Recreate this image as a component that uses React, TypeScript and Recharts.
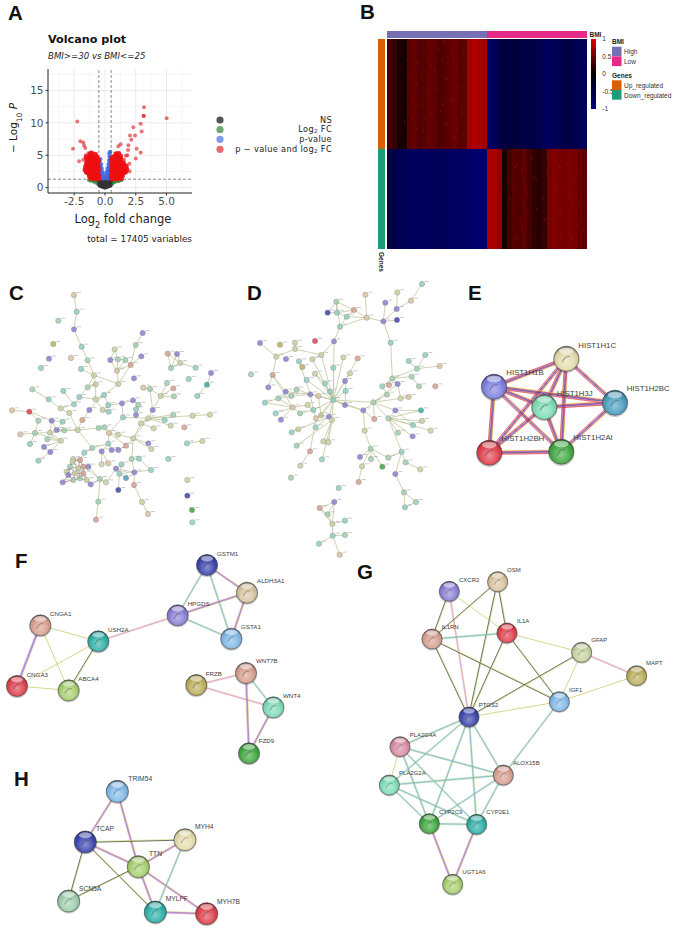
import React from "react";
import {
  Bar,
  BarChart,
  CartesianGrid,
  Cell,
  ReferenceLine,
  Scatter,
  ScatterChart,
  XAxis,
  YAxis,
} from "recharts";

type Pair = [number, number];

// A: volcano plot
const xTicks = [-2.5, 0, 2.5, 5];
const yTicks = [0, 5, 10, 15];
const xMinor = [-3.75, -1.25, 1.25, 3.75, 6.25];
const yMinor = [2.5, 7.5, 12.5, 17.5];
const fcCut = 0.5;
const pCut = 1.3;

const nsPoints: Pair[] = [
  [-0.45, 0.4], [-0.45, 0.9], [-0.4, 1.2], [-0.35, 0.3], [-0.35, 0.7], [-0.3, 1.1], [-0.25, 0.2], [-0.25, 0.6],
  [-0.2, 1.0], [-0.15, 0.15], [-0.15, 0.5], [-0.1, 0.9], [-0.05, 0.05], [-0.05, 0.4], [0, 0.2], [0, 0.75],
  [0.05, 0.05], [0.05, 0.45], [0.1, 1.0], [0.15, 0.15], [0.15, 0.55], [0.2, 1.1], [0.25, 0.2], [0.25, 0.65],
  [0.3, 1.15], [0.35, 0.3], [0.35, 0.75], [0.4, 1.2], [0.45, 0.4], [0.45, 0.9], [0, 1.1],
];
const fcPoints: Pair[] = [
  [-1.3, 1.2], [-1.15, 1.1], [-1.0, 1.2], [-0.9, 0.95], [-0.8, 1.15], [-0.7, 0.8], [-0.65, 1.1], [-0.55, 0.6],
  [-0.55, 1.0], [-0.6, 0.85], [0.55, 0.55], [0.55, 1.0], [0.62, 0.8], [0.68, 1.15], [0.75, 0.85], [0.85, 1.05],
  [0.95, 1.2], [1.05, 1.0], [1.2, 1.15], [1.35, 1.2],
];
const pPoints: Pair[] = [
  [-0.45, 1.5], [-0.35, 1.5], [-0.25, 1.5], [-0.15, 1.4], [-0.45, 2], [-0.35, 2], [-0.25, 1.9], [-0.15, 1.8],
  [-0.08, 1.5], [-0.45, 2.5], [-0.35, 2.6], [-0.25, 2.4], [-0.15, 2.2], [-0.45, 3], [-0.36, 3.1], [-0.27, 2.9],
  [-0.42, 3.5], [-0.33, 3.6], [-0.44, 4.1], [-0.38, 4.4], [0.1, 1.5], [0.2, 1.4], [0.3, 1.5], [0.42, 1.5],
  [0.12, 1.9], [0.22, 2], [0.32, 2], [0.44, 2], [0.15, 2.4], [0.25, 2.5], [0.35, 2.6], [0.46, 2.5],
  [0.22, 3], [0.33, 3.1], [0.44, 3], [0.3, 3.6], [0.4, 3.6], [0.46, 3.9], [0.34, 4.2], [0.42, 4.3],
  [0.38, 4.8], [0.45, 4.7], [0.36, 5.3], [0.42, 5.5], [0.02, 1.5],
];
const bothOutliers: Pair[] = [
  [5.01, 10.7], [3.17, 12.4], [3.14, 11.1], [3.15, 11.05], [-2.25, 10.2], [2.9, 9.85], [2.3, 9.3], [2.98, 8.65],
  [2.44, 8.05], [2.03, 8.05], [2.14, 7.4], [-2.0, 7.15], [-1.76, 6.95], [-1.7, 6.5], [-1.6, 6.1], [-2.6, 6.0],
  [1.9, 6.55], [1.27, 6.7], [1.08, 6.4], [1.87, 5.8], [2.57, 6.0], [2.9, 5.4], [2.5, 4.5], [1.98, 3.7],
  [2.0, 2.5], [-2.1, 4.07], [-1.76, 4.3], [-1.55, 5.0], [-1.35, 5.3], [1.7, 4.9], [1.55, 4.3], [1.82, 5.0],
];
const bothMass: Pair[] = [
  // left
  [-0.55, 1.42], [-0.7, 1.38], [-0.85, 1.45], [-1.0, 1.4], [-1.15, 1.5], [-0.52, 1.8], [-0.66, 1.85], [-0.8, 1.78],
  [-0.95, 1.82], [-1.1, 1.9], [-1.25, 1.85], [-0.6, 2.2], [-0.75, 2.25], [-0.9, 2.18], [-1.05, 2.3], [-1.2, 2.2],
  [-1.35, 2.3], [-1.5, 2.4], [-0.55, 2.7], [-0.7, 2.65], [-0.85, 2.75], [-1.0, 2.7], [-1.15, 2.8], [-1.3, 2.7],
  [-1.45, 2.85], [-1.6, 2.75], [-0.58, 3.2], [-0.74, 3.25], [-0.9, 3.15], [-1.05, 3.3], [-1.2, 3.2], [-1.38, 3.3],
  [-1.55, 3.25], [-0.6, 3.7], [-0.78, 3.75], [-0.95, 3.7], [-1.12, 3.8], [-1.3, 3.7], [-1.48, 3.8], [-0.55, 4.2],
  [-0.72, 4.25], [-0.9, 4.2], [-1.1, 4.3], [-1.28, 4.2], [-1.45, 4.35], [-0.65, 4.7], [-0.85, 4.75], [-1.05, 4.7],
  [-1.22, 4.8], [-1.5, 4.7], [-0.8, 5.1], [-1.2, 5.15], [-1.1, 5.3],
  // right
  [0.55, 1.4], [0.7, 1.45], [0.85, 1.38], [1.0, 1.42], [1.15, 1.5], [1.3, 1.45], [0.52, 1.85], [0.66, 1.8],
  [0.8, 1.9], [0.95, 1.82], [1.1, 1.88], [1.25, 1.95], [1.4, 1.85], [0.6, 2.25], [0.75, 2.2], [0.9, 2.3],
  [1.05, 2.2], [1.2, 2.35], [1.35, 2.25], [1.5, 2.35], [1.65, 2.4], [0.55, 2.7], [0.7, 2.75], [0.85, 2.65],
  [1.0, 2.8], [1.15, 2.7], [1.3, 2.8], [1.45, 2.72], [1.6, 2.85], [1.75, 2.8], [0.58, 3.25], [0.74, 3.2],
  [0.9, 3.3], [1.05, 3.2], [1.2, 3.3], [1.38, 3.22], [1.55, 3.35], [1.7, 3.3], [0.6, 3.75], [0.78, 3.7],
  [0.95, 3.8], [1.12, 3.72], [1.3, 3.8], [1.48, 3.75], [0.55, 4.25], [0.72, 4.2], [0.9, 4.3], [1.1, 4.22],
  [1.28, 4.35], [0.65, 4.7], [0.85, 4.8], [1.05, 4.72], [1.25, 4.85], [0.9, 5.2], [1.1, 5.25],
];

// B: heatmap, one value per column, 20 High then 20 Low
const upRows = 110;
const downRows = 100;
const upByColumn = [
  0.36, 0.3, 0.12, 0.12, 0.48, 0.52, 0.42, 0.46, 0.52, 0.5, 0.4, 0.46, 0.5, 0.56, 0.46, 0.5, 0.86, 0.92, 0.88, 0.84,
  -0.9, -0.78, -0.58, -0.55, -0.52, -0.5, -0.52, -0.56, -0.58, -0.62, -0.64, -0.75, -0.78, -0.74, -0.7, -0.62, -0.58, -0.66, -0.72, -0.75,
];
const downByColumn = [
  -0.55, -0.62, -0.7, -0.72, -0.78, -0.8, -0.76, -0.8, -0.78, -0.76, -0.74, -0.78, -0.82, -0.84, -0.82, -0.8, -0.85, -0.92, -0.95, -0.92,
  0.88, 0.9, 0.75, 0.12, 0.36, 0.46, 0.42, 0.5, 0.36, 0.24, 0.2, 0.3, 0.62, 0.68, 0.64, 0.6, 0.66, 0.62, 0.55, 0.5,
];
const heatSpeckles: Pair[] = [
  [4, 190], [5, 150], [6, 120], [7, 175], [8, 205], [9, 135], [10, 160], [11, 190], [12, 125], [13, 150],
  [14, 180], [15, 135], [5, 130], [7, 145], [9, 195], [10, 115], [12, 170], [14, 120], [6, 165], [8, 110],
  [11, 145], [13, 198], [24, 70], [25, 35], [26, 85], [27, 20], [28, 55], [29, 90], [30, 40], [31, 12],
  [32, 75], [33, 30], [34, 60], [35, 15], [36, 85], [37, 45], [38, 25], [39, 65], [25, 60], [27, 80],
  [29, 25], [31, 50], [33, 92], [35, 40], [37, 10], [38, 78], [26, 10], [30, 68],
  [4.6, 172], [5.4, 202], [6.5, 142], [7.3, 118], [8.4, 158], [9.6, 178], [10.7, 138], [11.5, 208], [12.6, 148], [13.5, 112],
  [14.4, 162], [15.3, 196], [3.5, 128], [4.2, 108], [6.2, 186], [8.8, 184], [10.3, 200], [12.2, 192], [14.8, 142], [7.8, 130],
  [24.5, 50], [25.6, 82], [26.6, 28], [27.5, 62], [28.6, 14], [29.4, 72], [30.6, 92], [31.5, 30], [32.6, 52], [33.4, 10],
  [34.5, 82], [35.6, 62], [36.4, 28], [37.5, 70], [38.6, 44], [39.4, 18], [32.2, 92], [34.2, 36], [36.8, 54], [28.2, 36],
];
const heatColumns = upByColumn.map((_, i) => String(i));
const scaleTicks = [-1, -0.5, 0, 0.5, 1];

// tones of the STRING spheres
const toneColors: Record<string, string> = {
  navy: "#3b44ad",
  purple: "#8a80d6",
  periwinkle: "#7d80e2",
  tan: "#d9c4a0",
  cream: "#e6dcae",
  rose: "#d8a090",
  pink: "#d98ca2",
  red: "#e0404c",
  mint: "#7edcb6",
  teal: "#2eb0a8",
  blue: "#82bae9",
  steel: "#4a9fc0",
  green: "#3fa83f",
  lime: "#a8d070",
  olive: "#bdb05e",
  sage: "#c8d2a0",
  seafoam: "#9fd0ae",
  aqua: "#8fcfc4",
};

// C
const cX = [222,230,175,222,160,245,147,123,213,263,243,428,407,344,331,354,376,424,392,351,503,531,541,513,587,633,566,621,592,402,282,287,263,355,97,190,146,238,287,312,430,450,501,520,482,522,399,415,366,458,222,182,208,268,308,325,326,408,408,369,36,88,115,155,188,247,445,520,494,578,630,423,512,553,461,170,193,233,296,314,327,354,61,105,150,400,142,183,90,132,151,325,378,445,454,561,607,277,253,305,335,355,115,220,395,417,505,305,325,365,265,348,358,403,453,378,200,218,240,210,235,250,205,225,240,260,188,220,250,272,300,318,355,402,295,288,426,444,562,562,576,577];
const cY = [75,125,152,178,222,230,266,294,264,271,297,189,225,238,270,268,270,259,285,302,251,252,279,294,293,309,327,344,378,325,316,343,352,342,358,363,388,381,388,375,353,357,339,355,378,379,391,404,400,420,403,415,429,420,420,405,425,418,435,442,421,425,452,452,455,450,445,434,450,437,434,460,467,472,475,480,481,480,474,472,489,494,493,489,488,505,508,512,522,531,546,521,527,520,537,520,513,534,548,544,540,540,572,567,567,566,567,583,580,583,590,596,611,607,600,624,605,575,570,590,595,590,615,610,625,630,637,630,610,643,627,637,660,645,695,749,696,732,630,677,720,757];
const cTones = ["tan","aqua","seafoam","purple","olive","aqua","purple","aqua","tan","seafoam","aqua","purple","seafoam","sage","purple","seafoam","seafoam","purple","rose","tan","rose","purple","sage","seafoam","aqua","purple","aqua","teal","aqua","purple","sage","tan","seafoam","sage","seafoam","aqua","aqua","aqua","sage","aqua","tan","seafoam","seafoam","rose","sage","seafoam","purple","seafoam","purple","purple","aqua","sage","sage","purple","sage","aqua","aqua","aqua","purple","aqua","tan","red","seafoam","purple","aqua","rose","sage","seafoam","aqua","sage","sage","sage","sage","rose","sage","purple","seafoam","sage","seafoam","seafoam","tan","sage","tan","seafoam","sage","sage","seafoam","sage","aqua","purple","purple","aqua","rose","purple","sage","aqua","sage","seafoam","aqua","purple","purple","purple","aqua","sage","seafoam","aqua","aqua","sage","tan","aqua","purple","purple","aqua","purple","aqua","steel","sage","sage","rose","seafoam","sage","rose","purple","sage","seafoam","sage","purple","seafoam","rose","purple","seafoam","sage","navy","rose","seafoam","rose","sage","tan","sage","navy","green","aqua"];
const cEdges: Pair[] = [
  [1,2],[2,4],[4,6],[6,10],[10,31],[11,31],[31,32],[31,33],[32,33],[32,39],[31,34],[34,20],[20,15],[20,16],[20,17],[15,16],[16,17],[14,16],[15,14],[17,19],[19,18],[19,34],[12,13],[13,19],[20,19],
  [21,23],[22,23],[22,24],[23,24],[21,24],[23,25],[26,28],[28,29],[33,38],[38,39],[39,40],[40,34],[39,55],[40,56],[56,55],[55,57],[56,49],[49,47],[47,48],[48,58],[58,59],[49,60],[60,67],[67,50],[50,45],[45,42],[42,41],[45,43],[45,44],[45,46],[42,50],
  [67,68],[67,69],[67,73],[67,70],[70,71],[67,72],[72,75],[72,86],[86,67],[86,82],[86,93],[86,94],[86,95],[86,105],[105,106],[106,115],[105,114],[114,112],[35,37],[37,52],[52,53],[52,51],[51,38],[36,51],[53,78],[54,66],[66,78],[54,40],[78,79],[79,80],[80,81],[81,82],
  [78,76],[76,77],[77,78],[77,85],[85,84],[84,83],[84,63],[63,62],[62,61],[62,64],[64,65],[65,76],[64,76],[64,85],[85,88],[88,87],[88,84],[89,84],[90,88],[91,88],[91,103],[90,91],[78,98],[98,92],[92,81],[98,99],[99,119],[81,60],[81,93],[92,100],[92,101],[101,102],[102,93],[100,108],[100,109],
  [104,118],[122,131],[111,122],[111,131],[131,132],[131,135],[135,136],[132,112],[112,110],[110,113],[113,116],[113,133],[114,134],[134,137],[137,138],[115,113],[130,131],[96,97],
];
const cClusterEdges: Pair[] = [
  [117,118],[117,120],[117,123],[118,119],[118,120],[118,121],[119,121],[119,122],[120,121],[120,123],[120,124],[121,122],[121,124],[121,125],[122,129],[123,124],[123,127],[123,128],[124,125],[124,128],[124,129],[125,126],[125,128],[125,129],[126,129],[127,128],[126,130],
];

// D
const dX = [561,528,487,451,485,486,445,391,395,304,278,306,357,335,315,297,240,467,75,135,180,180,259,124,153,192,232,325,368,571,521,614,546,202,295,48,113,240,345,215,330,472,530,552,601,100,270,442,488,462,152,185,332,456,169,226,250,285,497,521,90,130,295,330,415,218,173,122,195,235,385,481,558,138,258,282,291,243,418,460,561,534,242,190,170,389,489,533,587,185,265,280,225,261,407,375,408,460,500,512,381,442,196,168,481,556,371,507,543,510,311,298,254,278,292,330,330,293,252,314];
const dY = [42,92,67,98,117,150,154,74,143,95,128,128,120,140,170,214,213,218,219,224,218,237,255,260,267,274,268,262,265,255,273,288,296,291,293,313,315,311,310,330,333,325,320,349,349,352,340,349,342,345,365,358,363,374,378,373,378,365,385,381,398,385,390,405,397,405,412,430,430,420,421,421,421,449,436,440,450,445,447,445,453,465,472,478,487,482,488,499,482,527,514,517,544,568,536,561,567,563,545,577,589,590,587,623,612,598,636,667,696,712,654,696,714,733,762,752,795,797,821,854];
const dTones = ["aqua","tan","sage","purple","purple","navy","purple","tan","tan","seafoam","navy","aqua","rose","aqua","aqua","purple","red","aqua","purple","olive","sage","sage","sage","sage","purple","aqua","sage","sage","rose","aqua","aqua","tan","seafoam","olive","aqua","seafoam","rose","sage","sage","aqua","purple","seafoam","seafoam","seafoam","rose","purple","aqua","aqua","purple","rose","purple","seafoam","aqua","seafoam","seafoam","purple","tan","aqua","sage","tan","aqua","aqua","aqua","purple","seafoam","sage","tan","aqua","seafoam","aqua","purple","purple","teal","purple","tan","purple","sage","tan","rose","seafoam","sage","aqua","aqua","sage","aqua","sage","seafoam","purple","sage","seafoam","sage","sage","rose","aqua","seafoam","purple","seafoam","seafoam","aqua","seafoam","sage","green","sage","seafoam","purple","sage","rose","seafoam","seafoam","aqua","aqua","purple","rose","seafoam","sage","aqua","seafoam","aqua","aqua","tan"];
const dEdges: Pair[] = [
  [1,2],[2,5],[3,5],[5,7],[4,7],[6,7],[7,9],[8,9],[9,13],[9,14],[9,15],[10,12],[10,11],[11,12],[10,13],[12,13],[12,14],[13,14],[14,15],[10,15],[15,16],[16,23],[7,18],[18,42],[42,33],[33,30],[33,32],[33,31],[42,43],[43,44],[42,48],[42,49],[42,50],[48,54],[49,59],[59,60],[59,65],[49,65],[54,65],[65,71],[65,80],[65,72],[65,79],[71,79],[71,86],[86,95],[80,72],[80,73],[80,81],[80,82],[80,87],[80,89],[80,88],[72,73],[72,82],[65,63],[63,64],[71,64],
  [95,96],[95,97],[95,98],[95,101],[95,102],[101,107],[98,99],[99,100],[99,105],[100,106],[105,108],[108,109],[108,110],[109,110],[80,99],
  [23,27],[23,22],[22,24],[21,22],[24,19],[24,37],[37,46],[37,51],[37,67],[23,63],[16,63],[28,63],[29,41],[41,63],[39,63],[35,63],[47,63],[38,63],[40,63],[27,63],[26,56],[51,55],[52,55],[55,56],[56,63],[57,63],[58,63],[53,63],[64,63],[70,63],[75,63],[76,63],[77,63],[78,63],[83,76],[84,76],[85,84],[61,62],[62,51],[62,55],[61,67],[67,69],[67,68],[67,62],[74,67],[90,77],[93,78],[103,93],[91,77],[92,77],[94,77],[69,70],[51,56],[71,63],
  [57,75],[56,70],[70,78],[58,47],[53,41],[64,53],[66,70],[75,76],[76,77],[57,56],[52,56],[66,67],[38,47],
  [112,113],[112,114],[112,115],[113,114],[113,115],[114,115],[115,116],[115,118],[118,117],[118,119],[118,120],
];

// E
const eNames = ["HIST1H1C", "HIST1H1B", "HIST1H3J", "HIST1H2BC", "HIST1H2BH", "HIST1H2AI"];
const eX = [319, 102, 253, 465, 88, 304];
const eY = [236, 320, 381, 368, 518, 515];
const eTones = ["cream", "periwinkle", "mint", "steel", "red", "green"];
const eLabelX = [355, 139, 290, 500, 124, 340];
const eLabelY = [195, 278, 340, 325, 475, 471];
const eEdges: [string, string, string][] = [
  ["HIST1H1C", "HIST1H1B", "full"], ["HIST1H1C", "HIST1H3J", "full"], ["HIST1H1C", "HIST1H2BC", "full"],
  ["HIST1H1C", "HIST1H2BH", "full"], ["HIST1H1C", "HIST1H2AI", "full"], ["HIST1H1B", "HIST1H3J", "full"],
  ["HIST1H1B", "HIST1H2BC", "full"], ["HIST1H1B", "HIST1H2BH", "full"], ["HIST1H1B", "HIST1H2AI", "full"],
  ["HIST1H3J", "HIST1H2BC", "full"], ["HIST1H3J", "HIST1H2BH", "full"], ["HIST1H3J", "HIST1H2AI", "full"],
  ["HIST1H2BC", "HIST1H2AI", "full"], ["HIST1H2BH", "HIST1H2AI", "full"],
];

// F
const fNames = ["GSTM1", "ALDH3A1", "HPGDS", "GSTA1", "CNGA1", "USH2A", "CNGA3", "ABCA4", "FRZB", "WNT7B", "WNT4", "FZD9"];
const fX = [621, 741, 533, 694, 121, 295, 51, 206, 589, 738, 820, 747];
const fY = [60, 143, 211, 281, 241, 289, 423, 436, 420, 384, 487, 625];
const fTones = ["navy", "tan", "purple", "blue", "rose", "teal", "red", "lime", "olive", "rose", "mint", "green"];
const fLabelX = [651, 771, 563, 723, 150, 324, 80, 235, 617, 768, 849, 776];
const fLabelY = [25, 106, 176, 245, 204, 252, 387, 400, 384, 347, 450, 587];
const fEdges: [string, string, string][] = [
  ["GSTM1", "ALDH3A1", "multi"], ["GSTM1", "HPGDS", "cool"], ["GSTM1", "GSTA1", "cool"], ["ALDH3A1", "HPGDS", "multi"],
  ["ALDH3A1", "GSTA1", "multi"], ["HPGDS", "GSTA1", "cool"], ["USH2A", "HPGDS", "blush"], ["CNGA1", "USH2A", "thin"],
  ["CNGA1", "CNGA3", "violet"], ["CNGA1", "ABCA4", "thin"], ["CNGA3", "USH2A", "thin"], ["CNGA3", "ABCA4", "thin"],
  ["USH2A", "ABCA4", "dark"], ["FRZB", "WNT7B", "blush"], ["FRZB", "WNT4", "blush"], ["WNT7B", "WNT4", "cool"],
  ["WNT7B", "FZD9", "multi"], ["WNT4", "FZD9", "multi"],
];

// G
const gNames = ["CXCR2", "OSM", "IL1A", "IL1RN", "GFAP", "MAPT", "IGF1", "PTGS2", "PLA2G4A", "ALOX15B", "PLA2G2A", "CYP2C9", "CYP2E1", "UGT1A6"];
const gX = [283, 428, 456, 231, 680, 845, 613, 342, 135, 445, 103, 223, 365, 293];
const gY = [109, 80, 234, 252, 292, 362, 440, 486, 575, 660, 690, 806, 808, 988];
const gTones = ["purple", "tan", "red", "rose", "sage", "olive", "blue", "navy", "pink", "rose", "mint", "green", "teal", "lime"];
const gLabelX = [312, 456, 486, 260, 709, 873, 642, 371, 164, 474, 132, 252, 394, 322];
const gLabelY = [74, 45, 198, 216, 256, 325, 404, 450, 539, 623, 653, 770, 772, 951];
const gEdges: [string, string, string][] = [
  ["CXCR2", "IL1RN", "dark"], ["CXCR2", "IL1A", "thin"], ["CXCR2", "PTGS2", "blush"], ["OSM", "IL1RN", "dark"],
  ["OSM", "IL1A", "dark"], ["OSM", "PTGS2", "dark"], ["IL1RN", "IL1A", "cool"], ["IL1RN", "PTGS2", "dark"],
  ["IL1RN", "IGF1", "dark"], ["IL1A", "PTGS2", "dark"], ["IL1A", "IGF1", "dark"], ["IL1A", "GFAP", "thin"],
  ["GFAP", "MAPT", "blush"], ["GFAP", "IGF1", "thin"], ["GFAP", "PTGS2", "dark"], ["MAPT", "IGF1", "thin"],
  ["IGF1", "PTGS2", "thin"], ["IGF1", "ALOX15B", "cool"], ["PTGS2", "PLA2G4A", "cool"], ["PTGS2", "PLA2G2A", "cool"],
  ["PTGS2", "ALOX15B", "cool"], ["PTGS2", "CYP2C9", "cool"], ["PTGS2", "CYP2E1", "cool"], ["PLA2G4A", "PLA2G2A", "thin"],
  ["PLA2G4A", "ALOX15B", "cool"], ["PLA2G4A", "CYP2C9", "cool"], ["PLA2G4A", "CYP2E1", "cool"], ["PLA2G2A", "ALOX15B", "cool"],
  ["PLA2G2A", "CYP2C9", "cool"], ["PLA2G2A", "CYP2E1", "cool"], ["ALOX15B", "CYP2C9", "cool"], ["ALOX15B", "CYP2E1", "cool"],
  ["CYP2C9", "CYP2E1", "cool"], ["CYP2C9", "UGT1A6", "multi"], ["CYP2E1", "UGT1A6", "multi"],
];

// H
const hNames = ["TRIM54", "TCAP", "MYH4", "TTN", "SCN5A", "MYLPF", "MYH7B"];
const hX = [352, 256, 555, 415, 206, 466, 620];
const hY = [79, 231, 224, 305, 408, 441, 446];
const hTones = ["blue", "navy", "cream", "lime", "seafoam", "teal", "red"];
const hLabelX = [385, 288, 585, 447, 237, 497, 651];
const hLabelY = [40, 191, 185, 265, 371, 401, 408];
const hEdges: [string, string, string][] = [
  ["TRIM54", "TCAP", "multi"], ["TRIM54", "TTN", "multi"], ["TCAP", "MYH4", "dark"], ["TCAP", "TTN", "multi"],
  ["TCAP", "SCN5A", "dark"], ["TCAP", "MYLPF", "dark"], ["TTN", "MYH4", "multi"], ["TTN", "SCN5A", "dark"],
  ["TTN", "MYLPF", "multi"], ["TTN", "MYH7B", "multi"], ["MYH4", "MYLPF", "cool"], ["MYLPF", "MYH7B", "multi"],
];

const stripeSets: Record<string, { colors: string[]; width: number }> = {
  thin: { colors: ["#d4d98a"], width: 1 },
  dark: { colors: ["#d8dc8c", "#4a5236"], width: 0.8 },
  blush: { colors: ["#e2dc90", "#d080c8", "#e2a0c0"], width: 0.6 },
  violet: { colors: ["#e2dc90", "#9a70d8", "#7c58c0", "#b090e0"], width: 0.7 },
  multi: { colors: ["#dcd860", "#b860c0", "#6a50a8", "#e0a0c8"], width: 0.6 },
  cool: { colors: ["#d8e090", "#70c4d8", "#4a86b4", "#a4d8a0"], width: 0.5 },
  full: { colors: ["#e0d850", "#e02c4c", "#7040c0", "#30305c", "#d060c0", "#e03030"], width: 0.7 },
};

const heatColor = (v: number) => {
  const t = Math.abs(v);
  return v >= 0 ? `rgb(${Math.round(t * 190)},0,0)` : `rgb(0,0,${Math.round(t * 118)})`;
};

const dot = (r: number, fill: string, opacity: number) => (p: any) => (
  <circle cx={p.cx} cy={p.cy} r={r} fill={fill} fillOpacity={opacity} />
);

const Stripes = (props: any) => {
  const { x1, y1, x2, y2, kind } = props;
  const set = stripeSets[kind];
  const len = Math.hypot(x2 - x1, y2 - y1) || 1;
  const nx = -(y2 - y1) / len;
  const ny = (x2 - x1) / len;
  return (
    <g>
      {set.colors.map((c, i) => {
        const off = (i - (set.colors.length - 1) / 2) * set.width;
        return (
          <line
            key={i}
            x1={x1 + nx * off}
            y1={y1 + ny * off}
            x2={x2 + nx * off}
            y2={y2 + ny * off}
            stroke={c}
            strokeWidth={set.width}
          />
        );
      })}
    </g>
  );
};

const Sphere = (props: any) => {
  const { cx, cy, payload, radius } = props;
  return (
    <g>
      <circle cx={cx} cy={cy + radius * 0.08} r={radius * 1.06} fill="#000" opacity={0.22} />
      <circle cx={cx} cy={cy} r={radius} fill={toneColors[payload.tone]} />
      <circle cx={cx} cy={cy} r={radius} fill={`url(#sphere-${payload.tone})`} stroke="#4a4a4a" strokeWidth={0.6} />
      <path
        d={`M${cx - radius * 0.35} ${cy + radius * 0.3} q${radius * 0.3} ${-radius * 0.6} ${radius * 0.65} ${-radius * 0.45}`}
        fill="none"
        stroke="#333"
        strokeOpacity={0.35}
        strokeWidth={radius * 0.1}
      />
      <ellipse cx={cx} cy={cy - radius * 0.62} rx={radius * 0.58} ry={radius * 0.26} fill="#fff" opacity={0.5} />
    </g>
  );
};

const SmallNode = (props: any) => {
  const { cx, cy, payload } = props;
  return (
    <g>
      <circle cx={cx} cy={cy} r={2.7} fill={toneColors[payload.tone]} stroke="#777" strokeWidth={0.4} opacity={0.85} />
      <line x1={cx + 3} y1={cy - 2.5} x2={cx + 7} y2={cy - 2.5} stroke="#999" strokeWidth={0.5} />
    </g>
  );
};

const hiddenAxes = (xMax: number, yMax: number) => [
  <XAxis key="x" type="number" dataKey="x" domain={[0, xMax]} hide allowDataOverflow />,
  <YAxis key="y" type="number" dataKey="y" domain={[0, yMax]} reversed hide allowDataOverflow />,
];

function Labelled({
  left, top, width, height, names, xs, ys, tones, labelXs, labelYs, edges, radius, fontSize,
}: {
  left: number; top: number; width: number; height: number;
  names: string[]; xs: number[]; ys: number[]; tones: string[];
  labelXs: number[]; labelYs: number[]; edges: [string, string, string][];
  radius: number; fontSize: number;
}) {
  const nodes = names.map((name, i) => ({ name, x: xs[i], y: ys[i], tone: tones[i] }));
  const labels = names.map((name, i) => ({ name, x: labelXs[i], y: labelYs[i] }));
  const at = (name: string) => nodes[names.indexOf(name)];
  return (
    <div style={{ position: "absolute", left, top }}>
      <ScatterChart width={width} height={height} margin={{ top: 0, right: 0, bottom: 0, left: 0 }}>
        {hiddenAxes(width * 3, height * 3)}
        {edges.map(([a, b, kind], i) => (
          <ReferenceLine
            key={i}
            segment={[{ x: at(a).x, y: at(a).y }, { x: at(b).x, y: at(b).y }]}
            shape={(p: any) => <Stripes {...p} kind={kind} />}
          />
        ))}
        <Scatter data={nodes} isAnimationActive={false} shape={(p: any) => <Sphere {...p} radius={radius} />} />
        <Scatter
          data={labels}
          isAnimationActive={false}
          shape={(p: any) => (
            <text x={p.cx} y={p.cy} fontFamily="Liberation Sans" fontSize={fontSize} fill="#3c3c3c" dominantBaseline="central">
              {p.payload.name}
            </text>
          )}
        />
      </ScatterChart>
    </div>
  );
}

function Dense({
  left, top, width, height, xs, ys, tones, edges, redEdges,
}: {
  left: number; top: number; width: number; height: number;
  xs: number[]; ys: number[]; tones: string[]; edges: Pair[]; redEdges?: Pair[];
}) {
  const nodes = xs.map((x, i) => ({ x, y: ys[i], tone: tones[i] }));
  const seg = ([a, b]: Pair) => [
    { x: nodes[a - 1].x, y: nodes[a - 1].y },
    { x: nodes[b - 1].x, y: nodes[b - 1].y },
  ] as any;
  return (
    <div style={{ position: "absolute", left, top }}>
      <ScatterChart width={width} height={height} margin={{ top: 0, right: 0, bottom: 0, left: 0 }}>
        {hiddenAxes(width * 3, height * 3)}
        {edges.map((e, i) => (
          <ReferenceLine key={i} segment={seg(e)} stroke="#c0c69c" strokeWidth={0.8} />
        ))}
        {(redEdges ?? []).map((e, i) => (
          <ReferenceLine key={"r" + i} segment={seg(e)} stroke={i % 2 ? "#c87a80" : "#9a8a70"} strokeWidth={0.8} />
        ))}
        <Scatter data={nodes} isAnimationActive={false} shape={SmallNode} />
      </ScatterChart>
    </div>
  );
}

const toXY = (pts: Pair[]) => pts.map(([x, y]) => ({ x, y }));

function Volcano() {
  const tick = { fill: "#4d4d4d", fontSize: 10.5, fontFamily: "DejaVu Sans" };
  return (
    <div style={{ position: "absolute", left: 0, top: 60 }}>
      <ScatterChart width={194} height={155} margin={{ top: 9, right: 2, bottom: 0, left: 0 }}>
        <CartesianGrid horizontalValues={yMinor} verticalValues={xMinor} stroke="#f2f2f2" strokeWidth={0.7} />
        <CartesianGrid horizontalValues={yTicks} verticalValues={xTicks} stroke="#ebebeb" strokeWidth={1} />
        <XAxis
          type="number"
          dataKey="x"
          domain={[-4.63, 7.07]}
          ticks={xTicks}
          tick={tick}
          tickFormatter={(v: number) => v.toFixed(1)}
          tickSize={2.5}
          height={22}
          axisLine={{ stroke: "#222", strokeWidth: 1 }}
          tickLine={{ stroke: "#333" }}
        />
        <YAxis
          type="number"
          dataKey="y"
          domain={[-0.83, 18.3]}
          ticks={yTicks}
          tick={tick}
          tickSize={2.5}
          width={48}
          axisLine={{ stroke: "#222", strokeWidth: 1 }}
          tickLine={{ stroke: "#333" }}
        />
        <Scatter data={toXY(fcPoints)} isAnimationActive={false} shape={dot(2.2, "#2e8b3a", 0.8)} />
        <Scatter data={toXY(nsPoints)} isAnimationActive={false} shape={dot(2.2, "#333333", 0.9)} />
        <Scatter data={toXY(pPoints)} isAnimationActive={false} shape={dot(2.2, "#4169e1", 0.85)} />
        <Scatter data={toXY(bothMass)} isAnimationActive={false} shape={dot(2.7, "#ee0f10", 0.92)} />
        <Scatter data={toXY(bothOutliers)} isAnimationActive={false} shape={dot(2, "#d81e22", 0.62)} />
        <ReferenceLine x={-fcCut} stroke="#555" strokeDasharray="3 2" strokeWidth={0.7} />
        <ReferenceLine x={fcCut} stroke="#555" strokeDasharray="3 2" strokeWidth={0.7} />
        <ReferenceLine y={pCut} stroke="#555" strokeDasharray="3 2" strokeWidth={0.7} />
      </ScatterChart>
    </div>
  );
}

function Heatmap() {
  const table = heatColumns.map((col, i) => ({
    col,
    down: downRows,
    up: upRows,
    gap: 1,
    group: 7,
    upValue: upByColumn[i],
    downValue: downByColumn[i],
  }));
  return (
    <>
      <div style={{ position: "absolute", left: 387, top: 31 }}>
        <BarChart width={200} height={218} data={table} barCategoryGap={0} margin={{ top: 0, right: 0, bottom: 0, left: 0 }}>
          <XAxis dataKey="col" hide />
          <YAxis hide domain={[0, 218]} />
          <Bar dataKey="down" stackId="h" isAnimationActive={false}>
            {table.map((d, i) => (
              <Cell key={i} fill={heatColor(d.downValue)} />
            ))}
          </Bar>
          <Bar dataKey="up" stackId="h" isAnimationActive={false}>
            {table.map((d, i) => (
              <Cell key={i} fill={heatColor(d.upValue)} />
            ))}
          </Bar>
          <Bar dataKey="gap" stackId="h" fill="#fff" isAnimationActive={false} />
          <Bar dataKey="group" stackId="h" isAnimationActive={false}>
            {table.map((_, i) => (
              <Cell key={i} fill={i < 20 ? "#7570b3" : "#e7298a"} />
            ))}
          </Bar>
        </BarChart>
      </div>
      <div style={{ position: "absolute", left: 387, top: 39 }}>
        <ScatterChart width={200} height={210} margin={{ top: 0, right: 0, bottom: 0, left: 0 }}>
          <XAxis type="number" dataKey="x" domain={[0, 40]} hide />
          <YAxis type="number" dataKey="y" domain={[0, 210]} hide />
          <Scatter data={toXY(heatSpeckles)} isAnimationActive={false} shape={dot(0.6, "#e02020", 0.7)} />
        </ScatterChart>
      </div>
      <div style={{ position: "absolute", left: 378, top: 39 }}>
        <BarChart
          width={7}
          height={210}
          data={[{ name: "Genes", down: downRows, up: upRows }]}
          barCategoryGap={0}
          margin={{ top: 0, right: 0, bottom: 0, left: 0 }}
        >
          <XAxis dataKey="name" hide />
          <YAxis hide domain={[0, 210]} />
          <Bar dataKey="down" stackId="g" fill="#1b9e77" isAnimationActive={false} />
          <Bar dataKey="up" stackId="g" fill="#d95f02" isAnimationActive={false} />
        </BarChart>
      </div>
      <div style={{ position: "absolute", left: 590.7, top: 33 }}>
        <BarChart
          width={30}
          height={82}
          data={[{ name: "scale", range: [-1, 1] }]}
          barCategoryGap={0}
          margin={{ top: 6, right: 0, bottom: 6, left: 0 }}
        >
          <XAxis dataKey="name" hide />
          <YAxis
            orientation="right"
            type="number"
            domain={[-1, 1]}
            ticks={scaleTicks}
            width={24.7}
            axisLine={false}
            tickLine={false}
            tickMargin={0}
            tick={{ fontSize: 6.5, fill: "#333", fontFamily: "Liberation Sans" }}
          />
          <Bar dataKey="range" fill="url(#scale-grad)" isAnimationActive={false} />
        </BarChart>
      </div>
    </>
  );
}

const legendRows = [
  { label: "NS", color: "#555555", y: 120 },
  { label: "Log", sub: "2", tail: " FC", color: "#6aaa6e", y: 129.7 },
  { label: "p-value", color: "#7f9ae6", y: 139.3 },
  { label: "p \u2212 value and log", sub: "2", tail: " FC", color: "#e86a6a", y: 149.3 },
];

const panelLetters: [string, number, number][] = [
  ["A", 8, 19.5], ["B", 360, 18.5], ["C", 9, 300], ["D", 247, 300], ["E", 468, 300], ["F", 15, 568], ["G", 357, 579], ["H", 14, 786],
];

function Overlay() {
  const dv = "DejaVu Sans";
  const sans = "Liberation Sans";
  return (
    <svg width={678} height={931} style={{ position: "absolute", left: 0, top: 0, pointerEvents: "none" }}>
      {panelLetters.map(([t, x, y]) => (
        <text key={t} x={x} y={y} fontFamily={sans} fontWeight={700} fontSize={20.5} fill="#111">
          {t}
        </text>
      ))}
      <text x={48} y={43} fontFamily={dv} fontWeight={700} fontSize={11.2} fill="#111">Volcano plot</text>
      <text x={48} y={59} fontFamily={dv} fontStyle="italic" fontSize={8.6} fill="#222">{"BMI>=30 vs BMI<=25"}</text>
      <text x={123} y={223} textAnchor="middle" fontFamily={dv} fontSize={11.5} fill="#222">
        Log<tspan baselineShift="sub" fontSize={8}>2</tspan> fold change
      </text>
      <text transform="translate(17 128) rotate(-90)" textAnchor="middle" fontFamily={dv} fontSize={10.5} fill="#222">
        {"\u2212 Log"}<tspan baselineShift="sub" fontSize={7.5}>10</tspan> <tspan fontStyle="italic">P</tspan>
      </text>
      <text x={192} y={242} textAnchor="end" fontFamily={dv} fontSize={8.9} fill="#222">total = 17405 variables</text>
      {legendRows.map((r) => (
        <g key={r.y}>
          <circle cx={220} cy={r.y} r={3.6} fill={r.color} />
          <text x={332} y={r.y + 2.6} textAnchor="end" fontFamily={dv} fontSize={8.2} letterSpacing={0.35} fill="#222">
            {r.label}
            {r.sub && <tspan dy={1} fontSize={5.6}>{r.sub}</tspan>}
            {r.tail && <tspan dy={r.sub ? -1 : 0}>{r.tail}</tspan>}
          </text>
        </g>
      ))}

      <text x={589.5} y={37} fontFamily={sans} fontWeight={700} fontSize={6.5} fill="#222">BMI</text>
      <text transform="translate(378.5 252) rotate(90)" fontFamily={sans} fontWeight={700} fontSize={6.5} fill="#222">Genes</text>
      <text x={612} y={44} fontFamily={sans} fontWeight={700} fontSize={6.5} fill="#222">BMI</text>
      <rect x={612} y={46.7} width={9.5} height={9.7} fill="#7570b3" />
      <rect x={612} y={56.4} width={9.5} height={9.7} fill="#e7298a" />
      <text x={624} y={54} fontFamily={sans} fontSize={6.5} fill="#333">High</text>
      <text x={624} y={64} fontFamily={sans} fontSize={6.5} fill="#333">Low</text>
      <text x={612} y={78} fontFamily={sans} fontWeight={700} fontSize={6.5} fill="#222">Genes</text>
      <rect x={612} y={80.3} width={9.5} height={9.7} fill="#d95f02" />
      <rect x={612} y={90} width={9.5} height={9.7} fill="#1b9e77" />
      <text x={624} y={88} fontFamily={sans} fontSize={6.5} fill="#333">Up_regulated</text>
      <text x={624} y={98} fontFamily={sans} fontSize={6.5} fill="#333">Down_regulated</text>
    </svg>
  );
}

export default function App() {
  return (
    <div style={{ position: "absolute", left: 0, top: 0, width: 678, height: 931, background: "#fff", overflow: "hidden" }}>
      <svg width={0} height={0} style={{ position: "absolute" }}>
        <defs>
          <linearGradient id="scale-grad" x1="0" y1="0" x2="0" y2="1">
            <stop offset="0" stopColor="#e00000" />
            <stop offset="0.5" stopColor="#000000" />
            <stop offset="1" stopColor="#00008c" />
          </linearGradient>
          {Object.keys(toneColors).map((t) => (
            <radialGradient key={t} id={`sphere-${t}`} cx="0.5" cy="0.62" r="0.62">
              <stop offset="0" stopColor="#ffffff" stopOpacity={0.4} />
              <stop offset="0.5" stopColor="#ffffff" stopOpacity={0.12} />
              <stop offset="0.78" stopColor="#000000" stopOpacity={0.05} />
              <stop offset="1" stopColor="#000000" stopOpacity={0.55} />
            </radialGradient>
          ))}
        </defs>
      </svg>
      <Volcano />
      <Heatmap />
      <Dense left={0} top={270} width={240} height={270} xs={cX} ys={cY} tones={cTones} edges={cEdges} redEdges={cClusterEdges} />
      <Dense left={235} top={270} width={220} height={290} xs={dX} ys={dY} tones={dTones} edges={dEdges} />
      <Labelled left={460} top={280} width={218} height={220} names={eNames} xs={eX} ys={eY} tones={eTones} labelXs={eLabelX} labelYs={eLabelY} edges={eEdges} radius={12.5} fontSize={7.8} />
      <Labelled left={0} top={545} width={340} height={230} names={fNames} xs={fX} ys={fY} tones={fTones} labelXs={fLabelX} labelYs={fLabelY} edges={fEdges} radius={10.5} fontSize={6.2} />
      <Labelled left={355} top={555} width={323} height={350} names={gNames} xs={gX} ys={gY} tones={gTones} labelXs={gLabelX} labelYs={gLabelY} edges={gEdges} radius={10} fontSize={6} />
      <Labelled left={0} top={765} width={260} height={166} names={hNames} xs={hX} ys={hY} tones={hTones} labelXs={hLabelX} labelYs={hLabelY} edges={hEdges} radius={11} fontSize={6.7} />
      <Overlay />
    </div>
  );
}
